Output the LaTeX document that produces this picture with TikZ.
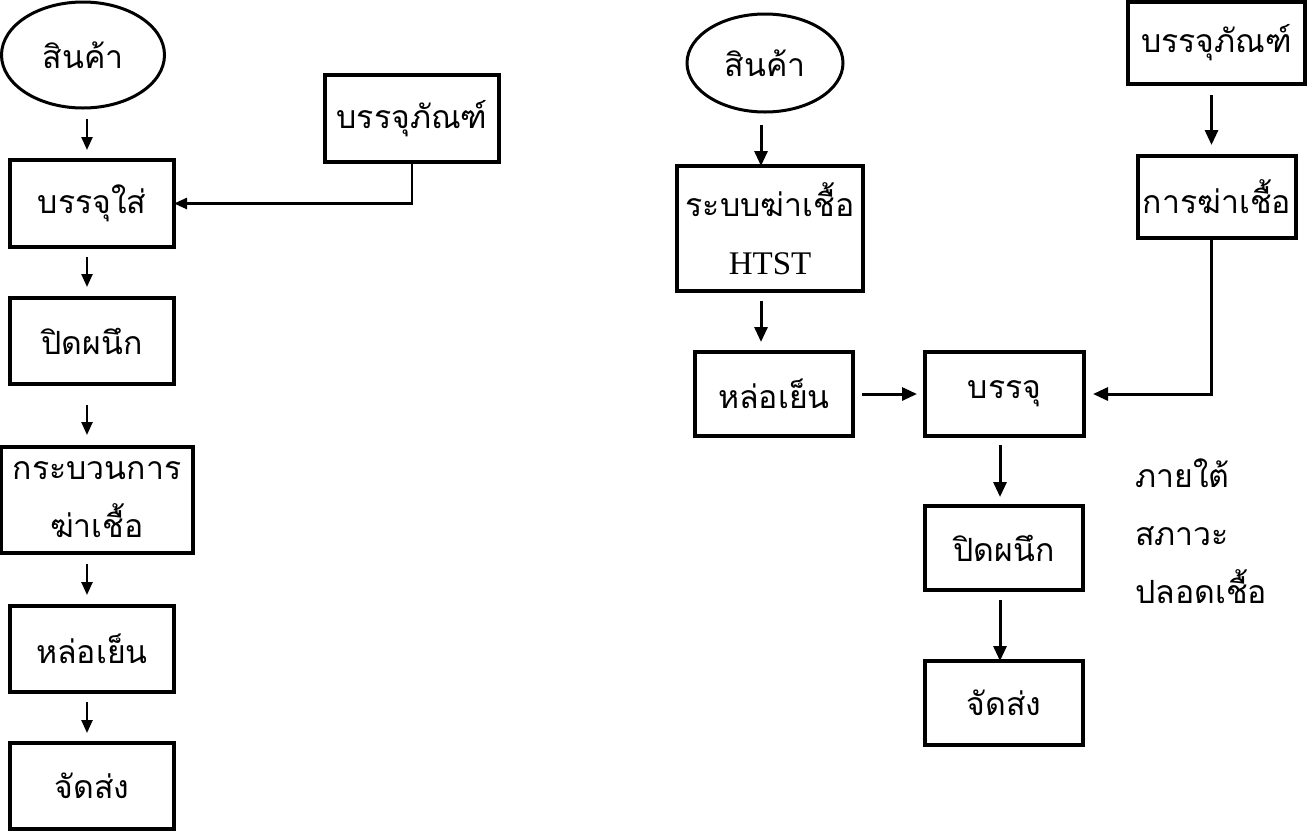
\documentclass[tikz,border=0pt]{standalone}
\usepackage{fontspec}
\setmainfont{Liberation Serif}
\newfontfamily\thaifont[Script=Thai]{Loma}
\usetikzlibrary{arrows.meta,shapes.geometric}
\begin{document}
\begin{tikzpicture}[x=1pt,y=-1pt,
  txt/.style={font=\thaifont\fontsize{32}{58}\selectfont},
  box/.style={draw, line width=3.2pt, rectangle, inner sep=0pt, outer sep=0pt, txt, align=center},
  oval/.style={draw, ellipse, line width=3pt, inner sep=0pt, outer sep=0pt, txt},
  arrL/.style={line width=2.4pt, -{Triangle[width=11pt,length=13pt]}},
  arrR/.style={line width=3pt, -{Triangle[width=13pt,length=15pt]}},
]
\useasboundingbox[fill=white] (0,0) rectangle (1313,831);

% ---------- left chart ----------
\node[oval, minimum width=163pt, minimum height=106pt] (lprod) at (83,55) {สินค้า};
\node[box, minimum width=164pt, minimum height=87pt] (lpack) at (92,203.5) {บรรจุใส่};
\node[box, minimum width=174pt, minimum height=87pt] (lpkg) at (412,118.5) {บรรจุภัณฑ์};
\node[box, minimum width=164pt, minimum height=86pt] (lseal) at (92,341) {ปิดผนึก};
\node[box, line width=3.8pt, minimum width=192pt, minimum height=106pt] (lkill) at (97,500) {กระบวนการ\\ฆ่าเชื้อ};
\node[box, minimum width=164pt, minimum height=86pt] (lcool) at (92,649) {หล่อเย็น};
\node[box, minimum width=164pt, minimum height=86pt] (lship) at (92,786) {จัดส่ง};

\coordinate (xl) at (87,0);
\draw[arrL, shorten <=11pt, shorten >=10pt] (xl |- lprod.south) -- (xl |- lpack.north);
\draw[arrL, shorten <=10pt, shorten >=11pt] (xl |- lpack.south) -- (xl |- lseal.north);
\draw[arrL, shorten <=21pt, shorten >=12pt] (xl |- lseal.south) -- (xl |- lkill.north);
\draw[arrL, shorten <=11pt, shorten >=11pt] (xl |- lkill.south) -- (xl |- lcool.north);
\draw[arrL, shorten <=10pt, shorten >=10pt] (xl |- lcool.south) -- (xl |- lship.north);
\draw[arrL] (lpkg.south) |- (lpack.east);

% ---------- right chart ----------
\node[oval, minimum width=156pt, minimum height=98pt] (rprod) at (765,63) {สินค้า};
\node[box, minimum width=186pt, minimum height=125pt] (rhtst) at (770,228.5) {ระบบฆ่าเชื้อ\\{\rmfamily\fontsize{33}{58}\selectfont HTST}};
\node[box, minimum width=158pt, minimum height=84pt] (rcool) at (774,394) {หล่อเย็น};
\node[box, minimum width=159pt, minimum height=84pt] (rpack) at (1004.5,394) {บรรจุ};
\node[box, minimum width=158pt, minimum height=84pt] (rseal) at (1004,548) {ปิดผนึก};
\node[box, minimum width=158pt, minimum height=84pt] (rship) at (1004,703) {จัดส่ง};
\node[box, minimum width=177pt, minimum height=82pt] (rpkg) at (1216.5,43) {บรรจุภัณฑ์};
\node[box, minimum width=158pt, minimum height=82pt] (rkill) at (1217,197) {การฆ่าเชื้อ};
\node[txt, anchor=west, align=left, inner sep=0pt] (note) at (1135,531) {ภายใต้\\สภาวะ\\ปลอดเชื้อ};

\coordinate (xr) at (761,0);
\coordinate (xm) at (1000,0);
\coordinate (xk) at (1211.5,0);
\draw[arrR, shorten <=13pt] (xr |- rprod.south) -- (xr |- rhtst.north);
\draw[arrR, shorten <=10pt, shorten >=10pt] (xr |- rhtst.south) -- (xr |- rcool.north);
\draw[arrR, shorten <=9pt, shorten >=8pt] (rcool.east) -- (rpack.west);
\draw[arrR, shorten <=9pt, shorten >=9pt] (xm |- rpack.south) -- (xm |- rseal.north);
\draw[arrR, shorten <=10pt] (xm |- rseal.south) -- (xm |- rship.north);
\draw[arrR, shorten <=11pt, shorten >=11pt] (xk |- rpkg.south) -- (xk |- rkill.north);
\draw[arrR, shorten >=9pt] (xk |- rkill.south) |- (rpack.east);
\end{tikzpicture}
\end{document}
